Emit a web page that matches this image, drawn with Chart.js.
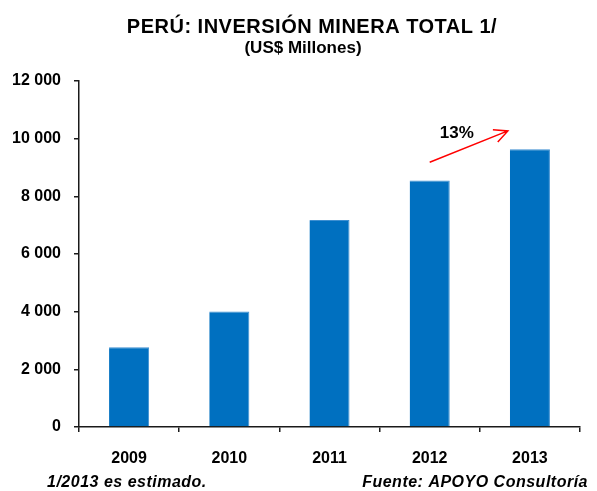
<!DOCTYPE html>
<html lang="es">
<head>
<meta charset="UTF-8">
<title>Perú: Inversión minera total</title>
<script src="https://cdn.jsdelivr.net/npm/chart.js"></script>
<style>
    html, body { margin: 0; padding: 0; background: #ffffff; }
    #wrap { width: 597px; height: 491px; position: relative; }
</style>
</head>
<body>
<div id="wrap"><canvas id="chart"></canvas></div>
<script>
    // data
    const years = ["2009", "2010", "2011", "2012", "2013"];
    const investment = [2770, 4010, 7180, 8550, 9630];
    const yTicks = [0, 2000, 4000, 6000, 8000, 10000, 12000];

    // growth arrow 2012 -> 2013, in category index / value units
    const arrowFrom = [3.0, 9180];
    const arrowTo = [3.78, 10270];
    const arrowLabel = "13%";
    const arrowLabelAt = [3.27, 10200];

    const titleText = "PERÚ: INVERSIÓN MINERA TOTAL 1/";
    const subtitleText = "(US$ Millones)";
    const noteText = "1/2013 es estimado.";
    const sourceText = "Fuente: APOYO Consultoría";

    const FONT = '"Liberation Sans", Arial, sans-serif';
    const axisColor = "#1a1a1a";

    function fmt(v) {
        return String(v).replace(/\B(?=(\d{3})+(?!\d))/g, " ");
    }

    const extras = {
        id: "extras",
        afterDraw(chart) {
            const ctx = chart.ctx;
            const x = chart.scales.x, y = chart.scales.y;
            ctx.save();

            // titles
            ctx.fillStyle = "#000";
            ctx.textAlign = "center";
            ctx.textBaseline = "middle";
            ctx.letterSpacing = "0.5px";
            ctx.font = "bold 20px " + FONT;
            ctx.fillText(titleText, 312, 27);
            ctx.letterSpacing = "0px";
            ctx.font = "bold 17px " + FONT;
            ctx.fillText(subtitleText, 303, 48);

            // footer notes
            ctx.letterSpacing = "0.5px";
            ctx.font = "italic bold 16px " + FONT;
            ctx.textAlign = "left";
            ctx.fillText(noteText, 47, 483);
            ctx.textAlign = "right";
            ctx.fillText(sourceText, 588, 483);
            ctx.letterSpacing = "0px";

            // arrow
            const x0 = x.getPixelForValue(arrowFrom[0]), y0 = y.getPixelForValue(arrowFrom[1]);
            const x1 = x.getPixelForValue(arrowTo[0]), y1 = y.getPixelForValue(arrowTo[1]);
            const ang = Math.atan2(y1 - y0, x1 - x0);
            const head = 15, spread = 0.45;
            ctx.strokeStyle = "#ff0000";
            ctx.lineWidth = 1.5;
            ctx.beginPath();
            ctx.moveTo(x0, y0);
            ctx.lineTo(x1, y1);
            ctx.moveTo(x1 - head * Math.cos(ang - spread), y1 - head * Math.sin(ang - spread));
            ctx.lineTo(x1, y1);
            ctx.lineTo(x1 - head * Math.cos(ang + spread), y1 - head * Math.sin(ang + spread));
            ctx.stroke();

            ctx.fillStyle = "#000";
            ctx.textAlign = "center";
            ctx.font = "bold 17px " + FONT;
            ctx.fillText(arrowLabel, x.getPixelForValue(arrowLabelAt[0]), y.getPixelForValue(arrowLabelAt[1]));
            ctx.restore();
        }
    };

    new Chart(document.getElementById("chart"), {
        type: "bar",
        data: {
            labels: years,
            datasets: [{
                data: investment,
                backgroundColor: "#0070c0",
                borderColor: "#3d8fd1",
                borderWidth: { top: 1, right: 1, left: 0, bottom: 0 },
                barPercentage: 1,
                categoryPercentage: 0.4
            }]
        },
        options: {
            responsive: true,
            maintainAspectRatio: false,
            animation: false,
            layout: { padding: { top: 81, right: 17, left: 0, bottom: 0 } },
            plugins: { legend: { display: false }, tooltip: { enabled: false } },
            scales: {
                x: {
                    offset: true,
                    grid: { offset: true, drawOnChartArea: false, tickLength: 5, color: axisColor, lineWidth: 1.5 },
                    border: { color: axisColor, width: 1.5 },
                    ticks: { color: "#000", font: { family: FONT, size: 16, weight: "bold" }, padding: 17 },
                    afterFit(s) { s.height = 64; }
                },
                y: {
                    min: 0,
                    max: 12000,
                    afterBuildTicks(s) { s.ticks = yTicks.map(v => ({ value: v })); },
                    grid: { drawOnChartArea: false, tickLength: 5, color: axisColor, lineWidth: 1.5 },
                    border: { color: axisColor, width: 1.5 },
                    ticks: {
                        color: "#000",
                        font: { family: FONT, size: 16, weight: "bold" },
                        padding: 13,
                        callback: v => fmt(v)
                    },
                    afterFit(s) { s.width = 79; }
                }
            }
        },
        plugins: [extras]
    });
</script>
</body>
</html>
